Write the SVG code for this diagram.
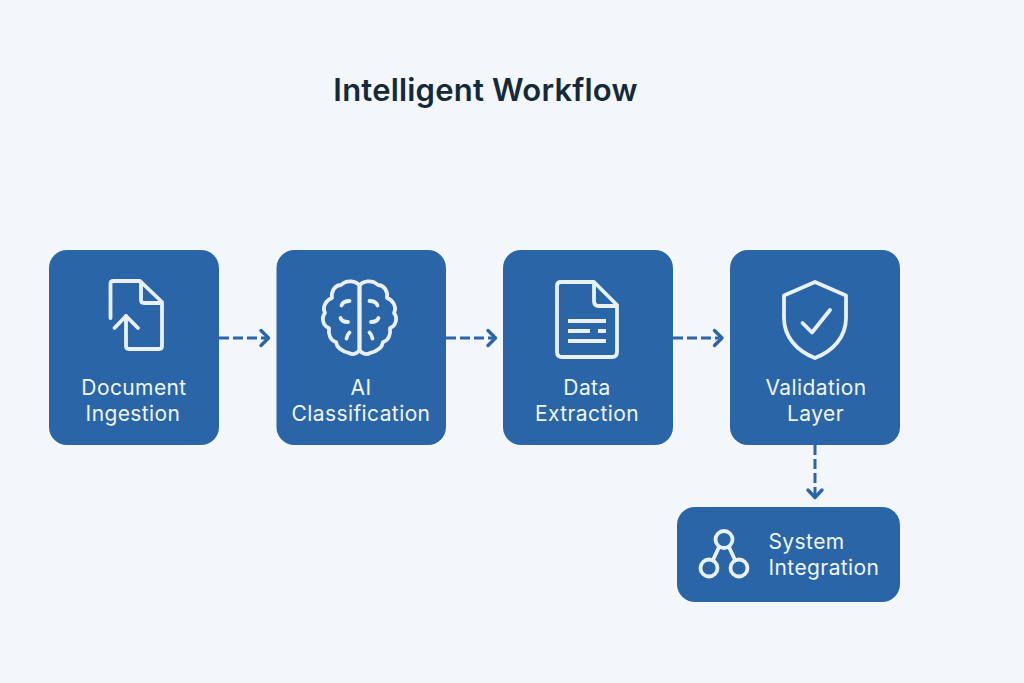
<svg xmlns="http://www.w3.org/2000/svg" width="1024" height="683" viewBox="0 0 1024 683">
<style>
.box{fill:#2a65a8}
.lbl{font-family:Inter,"Liberation Sans",sans-serif;font-size:21px;letter-spacing:.4px;fill:#f0f5fa;text-anchor:middle}
.sys{text-anchor:start}
.ic{fill:none;stroke:#e9f0f7;stroke-width:3.8;stroke-linecap:round;stroke-linejoin:round}
.con{fill:none;stroke:#2a65a8;stroke-width:3;stroke-dasharray:10 4}
.head{fill:none;stroke:#2a65a8;stroke-width:3.4;stroke-linecap:round;stroke-linejoin:round}
</style>
<defs>
<g id="brain-half">
<path class="ic" d="M359.500 286C357 281 347 279 341 285C335 285 331 291 332 298C326 300 322 307 325 313C321 318 323 326 329 328C328 335 331 341 336 342C337 349 345 352 349 353C353 355 357 354 359.500 350V286"/>
<path class="ic" d="M341.500 305.500Q343 301 349.500 301"/>
<path class="ic" d="M340.500 318Q342 322 348 322"/>
<path class="ic" d="M349.500 332.500Q347 335 346.500 338.500"/>
</g>
</defs>
<rect width="1024" height="683" fill="#f3f7fb"/>
<text x="485.500" y="101" font-family="Inter,'Liberation Sans',sans-serif" font-size="31" font-weight="600" letter-spacing=".2" fill="#152a38" text-anchor="middle">Intelligent Workflow</text>
<g id="connectors">
<path class="con" d="M219 338H266"/><path class="head" d="M261 330.500L268.500 338L261 345.500"/>
<path class="con" d="M446 338H493"/><path class="head" d="M488 330.500L495.500 338L488 345.500"/>
<path class="con" d="M673 338H719"/><path class="head" d="M714.500 330.500L722 338L714.500 345.500"/>
<path class="con" d="M815 445V495"/><path class="head" d="M808 490L815 497.500L822 490"/>
</g>
<g id="document-ingestion">
<rect class="box" x="49" y="250" width="170" height="195" rx="18"/>
<path class="ic" d="M110.500 318V284Q110.500 281 113.500 281H140L162 302V346Q162 349 159 349H129Q126 349 126 346V316"/>
<path class="ic" d="M141 283V300Q141 303 144 303H161"/>
<path class="ic" d="M114.500 328L126 316L138 328"/>
<text class="lbl" x="134" y="394.500">Document</text>
<text class="lbl" x="133" y="421">Ingestion</text>
</g>
<g id="ai-classification">
<rect class="box" x="276.500" y="250" width="169.500" height="195" rx="18"/>
<use href="#brain-half"/>
<use href="#brain-half" transform="translate(719 0) scale(-1 1)"/>
<text class="lbl" x="361" y="394.500">AI</text>
<text class="lbl" x="361" y="421">Classification</text>
</g>
<g id="data-extraction">
<rect class="box" x="503" y="250" width="170" height="195" rx="18"/>
<path class="ic" d="M561 282H594L617 305V352Q617 357 612 357H562Q557 357 557 352V286Q557 282 561 282Z"/>
<path class="ic" d="M594 283V301Q594 306 599 306H616"/>
<path d="M568 321H606M568 331H590M598 331H606M568 341H606" fill="none" stroke="#e9f0f7" stroke-width="3.800"/>
<text class="lbl" x="587" y="394.500">Data</text>
<text class="lbl" x="587" y="421">Extraction</text>
</g>
<g id="validation-layer">
<rect class="box" x="730" y="250" width="170" height="195" rx="18"/>
<path class="ic" d="M815 282L846 295.500V318C846 337 833 351 815 358C797 351 784 337 784 318V295.500Z"/>
<path class="ic" d="M802.500 323L812 332.500L830 310"/>
<text class="lbl" x="816" y="394.500">Validation</text>
<text class="lbl" x="815.500" y="421">Layer</text>
</g>
<g id="system-integration">
<rect class="box" x="677" y="507" width="223" height="95" rx="18"/>
<circle class="ic" cx="724" cy="539.500" r="8.500"/>
<circle class="ic" cx="709" cy="568" r="8.500"/>
<circle class="ic" cx="739" cy="568" r="8.500"/>
<path class="ic" d="M719 547L713 560M729 547L735 560"/>
<text class="lbl sys" x="768.500" y="549">System</text>
<text class="lbl sys" x="768.500" y="574.500">Integration</text>
</g>
</svg>
